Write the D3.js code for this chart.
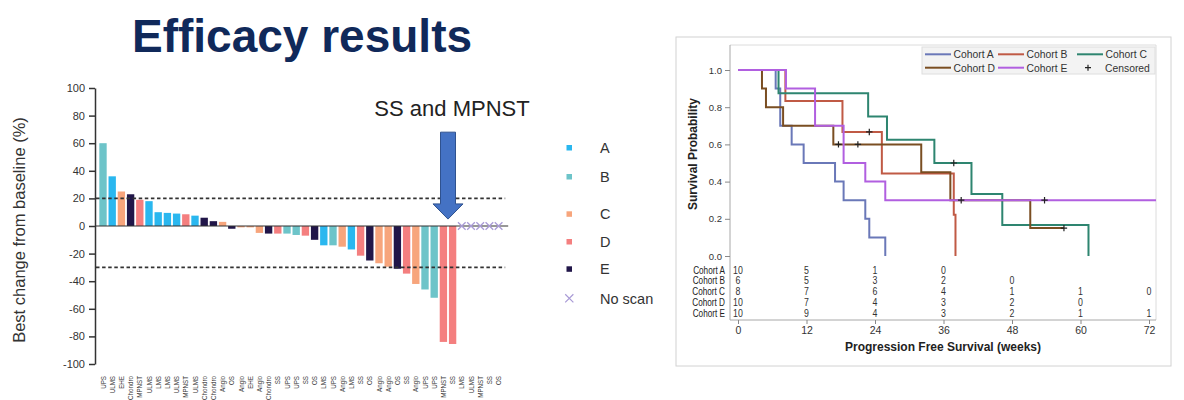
<!DOCTYPE html>
<html><head><meta charset="utf-8">
<script src="https://cdn.jsdelivr.net/npm/d3@7"></script>
<style>body{margin:0;background:#fff;} svg{display:block;font-family:Arial,"Liberation Sans",sans-serif;}</style>
</head><body><svg id="c" width="1184" height="400"></svg>
<script>
// ---------------- DATA ----------------
const titleText = "Efficacy results";
const histotypes = ["UPS","ULMS","EHE","Chondro","MPNST","ULMS","LMS","LMS","ULMS","MPNST","ULMS","Chondro","Chondro","Angio","OS","Angio","EHE","Angio","Chondro","SS","UPS","UPS","SS","OS","LMS","UPS","Angio","LMS","SS","OS","Angio","Angio","OS","SS","Angio","UPS","UPS","MPNST","SS","LMS","ULMS","MPNST","SS","OS"];
const cohorts = ["B","A","C","E","D","A","A","A","A","D","A","E","E","C","E","C","C","C","E","D","B","B","D","E","A","B","C","A","D","E","C","C","E","D","C","B","B","D","D",null,null,null,null,null];
const bestChange = [60,36,25,23,19,18,10,9.5,9,8.5,7.5,6,3.5,3,-2,-1,-1,-5,-5.5,-5.5,-5.5,-6.5,-7,-10,-14,-14,-15,-17,-21.5,-25,-27,-29.5,-31,-34.5,-42,-46,-52,-84,-85.5,null,null,null,null,null];
const wfTicks = [-100,-80,-60,-40,-20,0,20,40,60,80,100];
const thresholds = [20,-30];
const wfLegend = ["A","B","C","D","E"];
const annotationText = "SS and MPNST";

const kmCohorts = ["Cohort A","Cohort B","Cohort C","Cohort D","Cohort E"];
const kmTimes = [
  [0,6.6,7.4,9.4,11.5,17.0,18.5,22.3,23.0,25.8],
  [0,8.3,18.3,25.2,37.8,38.1],
  [0,7.1,22.8,26.1,34.4,40.9,46.3,61.4],
  [0,4.2,4.9,7.9,16.7,32.1,37.2,51.2],
  [0,8.4,13.5,18.5,22.3,25.8]
];
const kmSurv = [
  [1,0.9,0.7,0.6,0.5,0.4,0.3,0.2,0.1,0],
  [1,0.833,0.667,0.444,0.222,0],
  [1,0.875,0.75,0.625,0.5,0.333,0.167,0],
  [1,0.9,0.8,0.7,0.6,0.45,0.3,0.15],
  [1,0.9,0.7,0.5,0.4,0.3]
];
const kmCensor = [[],[23.0],[37.8],[17.6,21.0,57.1],[39.1,53.7]];
const kmEnd = [25.8,38.1,61.4,57.1,76];
const kmTicksX = [0,12,24,36,48,60,72];
const kmTicksY = [0,0.2,0.4,0.6,0.8,1.0];
const atRisk = [
  [10,5,1,0],
  [6,5,3,2,0],
  [8,7,6,4,1,1,0],
  [10,7,4,3,2,0],
  [10,9,4,3,2,1,1]
];

// ---------------- STYLE ----------------
const wfColors = {A:"#2ab7ef",B:"#6dc4c9",C:"#f7a57c",D:"#f47f7f",E:"#211649"};
const noScanColor = "#a99bd6";
const kmColors = ["#6a78b8","#c05a45","#2e8570","#7a4e22","#b15fe0"];

const svg = d3.select("#c");

// Title
svg.append("text").attr("x",302).attr("y",52).attr("text-anchor","middle")
  .attr("font-size",46).attr("font-weight","bold").attr("fill","#10295a").text(titleText);

// ---------------- WATERFALL ----------------
const wfX = d3.scaleBand().domain(d3.range(histotypes.length)).range([98.4,503.2]).paddingInner(0.2).paddingOuter(0.1);
const wfY = d3.scaleLinear().domain([-100,100]).range([364,88]);
const bw = wfX.bandwidth();
const axisX = 95;

const yAx = svg.append("g").attr("transform",`translate(${axisX},0)`)
  .call(d3.axisLeft(wfY).tickValues(wfTicks).tickFormat(d=>String(d)).tickSize(6).tickPadding(4).tickSizeOuter(0));
yAx.select(".domain").attr("stroke","#333").attr("stroke-width",1.5);
yAx.selectAll(".tick line").attr("stroke","#333").attr("stroke-width",1.5);
yAx.selectAll(".tick text").attr("font-size",11).attr("fill","#333").attr("font-family","Arial,'Liberation Sans',sans-serif");

svg.append("text").attr("transform",`translate(19,${wfY(0)+4}) rotate(-90)`).attr("text-anchor","middle")
  .attr("dy","0.35em").attr("font-size",16.5).attr("fill","#333").text("Best change from baseline (%)");

const xEnd = wfX.range()[1];
// bars
svg.append("g").selectAll("rect").data(bestChange.map((v,i)=>({v,i,c:cohorts[i]})).filter(d=>d.v!==null))
  .join("rect")
  .attr("x",d=>wfX(d.i)).attr("width",bw)
  .attr("y",d=>wfY(Math.max(0,d.v))).attr("height",d=>Math.abs(wfY(d.v)-wfY(0)))
  .attr("fill",d=>wfColors[d.c]);

// threshold lines
svg.append("g").selectAll("line").data(thresholds).join("line")
  .attr("x1",axisX+1).attr("x2",xEnd+2).attr("y1",d=>wfY(d)).attr("y2",d=>wfY(d))
  .attr("stroke","#333").attr("stroke-width",1.8).attr("stroke-dasharray","3.5,2.6");
// zero line
svg.append("line").attr("x1",axisX).attr("x2",xEnd+5).attr("y1",wfY(0)).attr("y2",wfY(0))
  .attr("stroke","#333").attr("stroke-width",1.2);

// no scan marks
svg.append("g").selectAll("path").data(bestChange.map((v,i)=>({v,i})).filter(d=>d.v===null))
  .join("path")
  .attr("transform",d=>`translate(${wfX(d.i)+bw/2},${wfY(0)})`)
  .attr("d",d3.symbol(d3.symbolTimes,40))
  .attr("fill","none").attr("stroke",noScanColor).attr("stroke-width",1.3);

// x labels
svg.append("g").selectAll("text").data(histotypes).join("text")
  .attr("transform",(d,i)=>`translate(${wfX(i)+bw/2},376) rotate(-90) scale(0.82,1)`)
  .attr("text-anchor","end").attr("dy","0.35em").attr("font-size",7.6).attr("fill","#333").text(d=>d);

// annotation arrow
const ax = (wfX(37)+wfX(38)+bw)/2;
const yTop = wfY(68), yHead = wfY(16), yTip = wfY(5);
const sw = 7.5, hw = 15;
svg.append("path").attr("d",`M${ax-sw},${yTop}L${ax+sw},${yTop}L${ax+sw},${yHead}L${ax+hw},${yHead}L${ax},${yTip}L${ax-hw},${yHead}L${ax-sw},${yHead}Z`)
  .attr("fill","#4472c4").attr("stroke","#2f528f").attr("stroke-width",1);
svg.append("text").attr("x",ax+4).attr("y",wfY(80)).attr("text-anchor","middle")
  .attr("font-size",22).attr("fill","#222").text(annotationText);

// waterfall legend
const legY = [147.7,176.7,214,241.7,269,298.3];
wfLegend.forEach((k,i)=>{
  svg.append("rect").attr("x",566.5).attr("y",legY[i]-2.7).attr("width",5.5).attr("height",5.5).attr("fill",wfColors[k]);
  svg.append("text").attr("x",600).attr("y",legY[i]).attr("dy","0.36em").attr("font-size",14.5).attr("fill","#333").text(k);
});
svg.append("path").attr("transform",`translate(569.3,${legY[5]})`).attr("d",d3.symbol(d3.symbolTimes,45))
  .attr("fill","none").attr("stroke",noScanColor).attr("stroke-width",1.2);
svg.append("text").attr("x",600).attr("y",legY[5]).attr("dy","0.36em").attr("font-size",14.5).attr("fill","#333").text("No scan");

// ---------------- KAPLAN-MEIER ----------------
svg.append("rect").attr("x",676).attr("y",37).attr("width",495).attr("height",329)
  .attr("fill","none").attr("stroke","#d2d2d2").attr("stroke-width",1);

const kmX = d3.scaleLinear().domain([0,72]).range([738,1149]);
const kmY = d3.scaleLinear().domain([0,1]).range([256,70]);
const pL=730,pR=1156,pT=45,pB=320;

// frame
svg.append("line").attr("x1",pL).attr("x2",pR).attr("y1",pT).attr("y2",pT).attr("stroke","#dcdcdc");
svg.append("line").attr("x1",pR).attr("x2",pR).attr("y1",pT).attr("y2",pB).attr("stroke","#dcdcdc");
svg.append("line").attr("x1",pL).attr("x2",pL).attr("y1",pT).attr("y2",pB).attr("stroke","#a8a8a8");
svg.append("line").attr("x1",pL).attr("x2",pR).attr("y1",pB).attr("y2",pB).attr("stroke","#a8a8a8");

const kyAx = svg.append("g").attr("transform",`translate(${pL},0)`)
  .call(d3.axisLeft(kmY).tickValues(kmTicksY).tickFormat(d3.format(".1f")).tickSize(5).tickPadding(3));
kyAx.select(".domain").remove();
kyAx.selectAll(".tick line").attr("stroke","#888");
kyAx.selectAll(".tick text").attr("font-size",9.5).attr("fill","#333").attr("font-family","Arial,'Liberation Sans',sans-serif");

const kxAx = svg.append("g").attr("transform",`translate(0,${pB})`)
  .call(d3.axisBottom(kmX).tickValues(kmTicksX).tickSize(4).tickPadding(3));
kxAx.select(".domain").remove();
kxAx.selectAll(".tick line").attr("stroke","#888");
kxAx.selectAll(".tick text").attr("font-size",10.5).attr("fill","#333").attr("font-family","Arial,'Liberation Sans',sans-serif");

svg.append("text").attr("x",943).attr("y",351).attr("text-anchor","middle").attr("font-size",12)
  .attr("font-weight","bold").attr("fill","#222").text("Progression Free Survival (weeks)");
svg.append("text").attr("transform",`translate(693,154) rotate(-90)`).attr("text-anchor","middle")
  .attr("dy","0.35em").attr("font-size",12).attr("font-weight","bold").attr("fill","#222").text("Survival Probability");

svg.append("clipPath").attr("id","kmclip").append("rect").attr("x",pL).attr("y",pT).attr("width",pR-pL).attr("height",pB-pT);
const kmG = svg.append("g").attr("clip-path","url(#kmclip)");
const line = d3.line().x(d=>kmX(d[0])).y(d=>kmY(d[1])).curve(d3.curveStepAfter);

kmCohorts.forEach((name,ci)=>{
  const pts = kmTimes[ci].map((t,j)=>[t,kmSurv[ci][j]]);
  const last = pts[pts.length-1];
  if (kmEnd[ci] > last[0]) pts.push([kmEnd[ci], last[1]]);
  kmG.append("path").attr("d",line(pts)).attr("fill","none").attr("stroke",kmColors[ci]).attr("stroke-width",2);
});
// censor marks
kmCohorts.forEach((name,ci)=>{
  kmCensor[ci].forEach(t=>{
    let s = 1;
    kmTimes[ci].forEach((tt,j)=>{ if (tt<=t) s = kmSurv[ci][j]; });
    kmG.append("path").attr("transform",`translate(${kmX(t)},${kmY(s)})`)
      .attr("d","M-3.2,0H3.2M0,-3.2V3.2").attr("stroke","#222").attr("stroke-width",1.2);
  });
});

// at-risk table
kmCohorts.forEach((name,ci)=>{
  const y = 270 + ci*10.9;
  svg.append("text").attr("transform",`translate(725,${y}) scale(0.82,1)`).attr("text-anchor","end")
    .attr("dy","0.35em").attr("font-size",10).attr("fill","#222").text(name);
  atRisk[ci].forEach((n,j)=>{
    svg.append("text").attr("transform",`translate(${kmX(kmTicksX[j])},${y}) scale(0.88,1)`).attr("text-anchor","middle")
      .attr("dy","0.35em").attr("font-size",10).attr("fill","#333").text(n);
  });
});

// KM legend
svg.append("rect").attr("x",922).attr("y",47).attr("width",233).attr("height",27).attr("fill","#f3f3f3").attr("stroke","#dedede");
const legCols = [925,998,1077];
const legRows = [54.3,67.7];
const legItems = kmCohorts.map((n,i)=>({n,i}));
legItems.forEach(d=>{
  const col = d.i%3, row = Math.floor(d.i/3);
  const x = legCols[col], y = legRows[row];
  svg.append("line").attr("x1",x).attr("x2",x+26).attr("y1",y).attr("y2",y).attr("stroke",kmColors[d.i]).attr("stroke-width",2);
  svg.append("text").attr("transform",`translate(${x+28.5},${y}) scale(0.9,1)`).attr("dy","0.35em").attr("font-size",11.5).attr("fill","#333").text(d.n);
});
svg.append("path").attr("transform",`translate(1088,${legRows[1]})`).attr("d","M-3,0H3M0,-3V3").attr("stroke","#222").attr("stroke-width",1.2);
svg.append("text").attr("transform",`translate(1105,${legRows[1]}) scale(0.9,1)`).attr("dy","0.35em").attr("font-size",11.5).attr("fill","#333").text("Censored");
</script></body></html>
